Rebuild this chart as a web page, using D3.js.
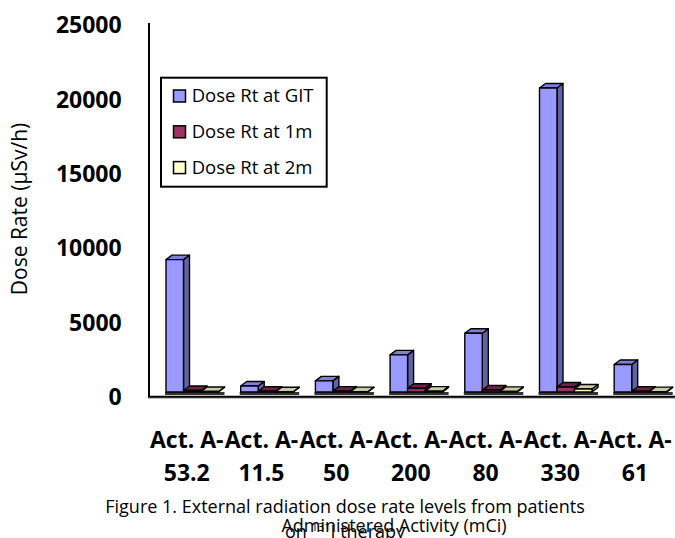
<html>
  <head>
    <style>
      body {
        margin:0;
        background:#fff;
        font-family:"Open Sans", sans-serif;
      }
      .tick-label {
        font-weight:bold;
        font-size:23px;
        fill:#000;
      }
      .cat-label {
        font-weight:bold;
        font-size:23px;
        fill:#000;
      }
      .legend text {
        font-size:18.5px;
        fill:#000;
      }
      .caption {
        font-size:18px;
        fill:#000;
      }
      .bar path {
        stroke:#000;
        stroke-width:1.4;
        stroke-linejoin:round;
      }
    </style>
  </head>
  <body>
    <div class="graph"></div>
    <script src="https://d3js.org/d3.v7.min.js" type="text/javascript"></script>
    <script>
      var categories = ["Act. A-53.2", "Act. A-11.5", "Act. A-50", "Act. A-200", "Act. A-80", "Act. A-330", "Act. A-61"];
      var seriesNames = ["Dose Rt at GIT", "Dose Rt at 1m", "Dose Rt at 2m"];
      var doseGIT = [8900, 400, 750, 2500, 3950, 20450, 1850];
      var dose1m = [100, 50, 60, 250, 130, 340, 50];
      var dose2m = [30, 20, 25, 60, 40, 200, 25];
      var yTicks = [0, 5000, 10000, 15000, 20000, 25000];

      var width = 675;
      var height = 538;

      // front / top / side colours for the 3d look
      var colors = [
        {front:"#9999ff", top:"#8080d8", side:"#6262a6"},
        {front:"#993366", top:"#74204a", side:"#5a1838"},
        {front:"#ffffcc", top:"#cccca2", side:"#9a9a78"}
      ];
      var series = [doseGIT, dose1m, dose2m];

      var dx = 6, dy = 4.5, lift = 4.7;

      var x0 = d3.scaleBand()
        .domain(categories)
        .range([154.9, 677.8])
        .paddingInner(0.297)
        .paddingOuter(0.1485);
      var x1 = d3.scaleBand()
        .domain(seriesNames)
        .range([0, x0.bandwidth()]);
      var y = d3.scaleLinear()
        .domain([0, 25000])
        .range([396.7, 25]);

      var svg = d3.select(".graph").append("svg")
        .attr("width", width)
        .attr("height", height);

      // y axis labels (no tick marks in the original)
      svg.append("g").selectAll("text")
        .data(yTicks)
        .enter().append("text")
        .attr("class", "tick-label")
        .attr("x", 121.7)
        .attr("y", function (d) { return y(d); })
        .attr("dy", "0.36em")
        .attr("text-anchor", "end")
        .text(function (d) { return d; });

      // floor strips under each group
      svg.append("g").selectAll("rect")
        .data(categories)
        .enter().append("rect")
        .attr("x", function (d) { return x0(d) - 1; })
        .attr("y", y(0) - lift)
        .attr("width", x0.bandwidth() + dx + 1)
        .attr("height", 3)
        .attr("fill", "#333");

      var bars = svg.append("g");
      categories.forEach(function (cat, ci) {
        seriesNames.forEach(function (name, si) {
          var v = series[si][ci];
          var c = colors[si];
          var bx = x0(cat) + x1(name);
          var w = x1.bandwidth();
          var top = y(v) - lift;
          var bottom = y(0) - lift;
          var g = bars.append("g").attr("class", "bar");
          g.append("path")
            .attr("fill", c.side)
            .attr("d", "M" + (bx + w) + "," + top + "L" + (bx + w + dx) + "," + (top - dy) +
              "L" + (bx + w + dx) + "," + (bottom - dy) + "L" + (bx + w) + "," + bottom + "Z");
          g.append("path")
            .attr("fill", c.top)
            .attr("d", "M" + bx + "," + top + "L" + (bx + dx) + "," + (top - dy) +
              "L" + (bx + w + dx) + "," + (top - dy) + "L" + (bx + w) + "," + top + "Z");
          g.append("path")
            .attr("fill", c.front)
            .attr("d", "M" + bx + "," + top + "H" + (bx + w) + "V" + bottom + "H" + bx + "Z");
        });
      });

      // axes lines
      svg.append("line")
        .attr("x1", 149).attr("x2", 149)
        .attr("y1", 23).attr("y2", y(0))
        .attr("stroke", "#000").attr("stroke-width", 2);
      svg.append("line")
        .attr("x1", 148).attr("x2", 675)
        .attr("y1", 398).attr("y2", 398)
        .attr("stroke", "#aaa").attr("stroke-width", 1.5);
      svg.append("line")
        .attr("x1", 148).attr("x2", 675)
        .attr("y1", y(0)).attr("y2", y(0))
        .attr("stroke", "#000").attr("stroke-width", 2);

      // category labels, wrapped after the hyphen
      var cats = svg.append("g").selectAll("text")
        .data(categories)
        .enter().append("text")
        .attr("class", "cat-label")
        .attr("text-anchor", "middle");
      cats.append("tspan")
        .attr("x", function (d) { return x0(d) + x0.bandwidth() / 2 - 5.5; })
        .attr("y", 448)
        .text(function (d) { return d.split("-")[0] + "-"; });
      cats.append("tspan")
        .attr("x", function (d) { return x0(d) + x0.bandwidth() / 2 - 5.5; })
        .attr("y", 481)
        .text(function (d) { return d.split("-")[1]; });

      // y axis title
      svg.append("text")
        .attr("class", "caption")
        .style("font-size", "21px")
        .attr("text-anchor", "middle")
        .attr("transform", "translate(27,209) rotate(-90)")
        .text("Dose Rate (\u00b5Sv/h)");

      // figure caption overlapping the x axis title, as in the source
      svg.append("text")
        .attr("class", "caption")
        .attr("x", 345).attr("y", 513)
        .attr("text-anchor", "middle")
        .text("Figure 1. External radiation dose rate levels from patients");
      svg.append("text")
        .attr("class", "caption")
        .attr("x", 394).attr("y", 532)
        .attr("text-anchor", "middle")
        .text("Administered Activity (mCi)");
      var onT = svg.append("text")
        .attr("class", "caption")
        .attr("x", 285).attr("y", 538);
      onT.append("tspan").text("on ");
      onT.append("tspan").attr("dy", -7).style("font-size", "11px").text("131");
      onT.append("tspan").attr("dy", 7).text("I therapy");

      // legend
      var legend = svg.append("g").attr("class", "legend");
      legend.append("rect")
        .attr("x", 161).attr("y", 77.7)
        .attr("width", 165.7).attr("height", 109)
        .attr("fill", "#fff")
        .attr("stroke", "#000").attr("stroke-width", 2);
      var item = legend.selectAll(".item")
        .data(seriesNames)
        .enter().append("g")
        .attr("class", "item")
        .attr("transform", function (d, i) { return "translate(0," + (96 + i * 35.8) + ")"; });
      item.append("rect")
        .attr("x", 173.5).attr("y", -6)
        .attr("width", 12).attr("height", 12)
        .attr("fill", function (d, i) { return colors[i].front; })
        .attr("stroke", "#000").attr("stroke-width", 1.5);
      item.append("text")
        .attr("x", 191.7)
        .attr("dy", "0.35em")
        .text(function (d) { return d; });
    </script>
  </body>
</html>
